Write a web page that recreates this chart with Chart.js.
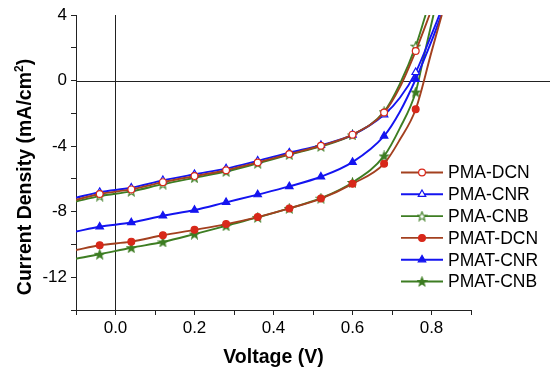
<!DOCTYPE html>
<html>
<head>
<meta charset="utf-8">
<script src="https://cdn.jsdelivr.net/npm/chart.js@4.4.1/dist/chart.umd.min.js"></script>
<style>
html, body { margin: 0; padding: 0; background: #fff; }
</style>
</head>
<body>
<canvas id="jvChart" width="550" height="378"></canvas>
<script>
// J-V data (V in volts, J in mA/cm2)
const seriesNames = ['PMA-DCN', 'PMA-CNR', 'PMA-CNB', 'PMAT-DCN', 'PMAT-CNR', 'PMAT-CNB'];

const vPMA_DCN = [-0.1, -0.04, 0.04, 0.12, 0.20, 0.28, 0.36, 0.44, 0.52, 0.60, 0.68, 0.72, 0.76, 0.795];
const jPMA_DCN = [-7.27, -6.92, -6.64, -6.20, -5.83, -5.47, -5.00, -4.48, -3.98, -3.30, -1.95, -0.40, 1.80, 4.0];

const vPMA_CNR = [-0.1, -0.04, 0.04, 0.12, 0.20, 0.28, 0.36, 0.44, 0.52, 0.60, 0.68, 0.72, 0.76, 0.80, 0.82];
const jPMA_CNR = [-7.15, -6.81, -6.54, -6.09, -5.72, -5.37, -4.90, -4.40, -3.94, -3.32, -2.09, -1.05, 0.50, 2.80, 4.0];

const vPMA_CNB = [-0.1, -0.04, 0.04, 0.12, 0.20, 0.28, 0.36, 0.44, 0.52, 0.60, 0.68, 0.72, 0.76, 0.785];
const jPMA_CNB = [-7.38, -7.05, -6.76, -6.32, -5.93, -5.55, -5.05, -4.52, -4.02, -3.32, -1.90, -0.20, 2.10, 4.0];

const vPMAT_DCN = [-0.1, -0.04, 0.04, 0.12, 0.20, 0.28, 0.36, 0.44, 0.52, 0.60, 0.68, 0.72, 0.76, 0.80, 0.826];
const jPMAT_DCN = [-10.34, -10.05, -9.83, -9.44, -9.11, -8.76, -8.33, -7.80, -7.20, -6.30, -5.07, -3.60, -1.75, 1.75, 4.0];

const vPMAT_CNR = [-0.1, -0.04, 0.04, 0.12, 0.20, 0.28, 0.36, 0.44, 0.52, 0.60, 0.68, 0.72, 0.76, 0.80, 0.825];
const jPMAT_CNR = [-9.21, -8.92, -8.66, -8.25, -7.90, -7.43, -6.96, -6.46, -5.87, -4.98, -3.38, -1.90, 0.08, 2.40, 4.0];

const vPMAT_CNB = [-0.1, -0.04, 0.04, 0.12, 0.20, 0.28, 0.36, 0.44, 0.52, 0.60, 0.68, 0.72, 0.76, 0.78, 0.805];
const jPMAT_CNB = [-10.87, -10.60, -10.20, -9.85, -9.37, -8.86, -8.35, -7.80, -7.18, -6.22, -4.60, -2.90, -0.70, 1.40, 4.0];

// voltages where the original plot puts a symbol
const markerVoltages = [-0.04, 0.04, 0.12, 0.20, 0.28, 0.36, 0.44, 0.52, 0.60, 0.68, 0.76];

const xTickLabels = ['0.0', '0.2', '0.4', '0.6', '0.8'];
const yTickLabels = ['4', '0', '-4', '-8', '-12'];

const BROWN = '#a3401f', RED = '#d8281a', BLUE = '#1414f0', GREEN = '#3d7d22';
const FONT = "'Liberation Sans', Arial, sans-serif";

Chart.defaults.color = '#000';
Chart.defaults.font.family = FONT;

function makeStar(fill, stroke) {
    const c = document.createElement('canvas');
    c.width = 11; c.height = 11;
    const g = c.getContext('2d');
    g.beginPath();
    for (let i = 0; i < 10; i++) {
        const r = i % 2 ? 2.0 : 4.7;
        const a = -Math.PI / 2 + i * Math.PI / 5;
        g.lineTo(5.5 + r * Math.cos(a), 5.9 + r * Math.sin(a));
    }
    g.closePath();
    g.fillStyle = fill;
    g.fill();
    g.lineWidth = 1.1;
    g.strokeStyle = stroke;
    g.stroke();
    return c;
}

function toPoints(vs, js) {
    return vs.map((v, i) => ({ x: v, y: js[i] }));
}

function isMarker(v) {
    return markerVoltages.some(m => Math.abs(m - v) < 1e-6);
}

function series(label, vs, js, line, style, fill, edge, r) {
    return {
        label: label,
        data: toPoints(vs, js),
        borderColor: line,
        borderWidth: 1.9,
        pointStyle: style,
        pointBackgroundColor: fill,
        pointBorderColor: edge,
        pointBorderWidth: 1.2,
        markerR: r,
        pointRadius: ctx => isMarker(ctx.raw.x) ? r : 0,
        pointHoverRadius: 0,
        cubicInterpolationMode: 'monotone',
        fill: false
    };
}

const datasets = [
    series(seriesNames[0], vPMA_DCN, jPMA_DCN, BROWN, 'circle', '#fff', RED, 3.4),
    series(seriesNames[1], vPMA_CNR, jPMA_CNR, BLUE, 'triangle', '#fff', BLUE, 4.3),
    series(seriesNames[2], vPMA_CNB, jPMA_CNB, GREEN, makeStar('#fff', GREEN), '#fff', GREEN, 5),
    series(seriesNames[3], vPMAT_DCN, jPMAT_DCN, BROWN, 'circle', RED, RED, 3.4),
    series(seriesNames[4], vPMAT_CNR, jPMAT_CNR, BLUE, 'triangle', BLUE, BLUE, 4.3),
    series(seriesNames[5], vPMAT_CNB, jPMAT_CNB, GREEN, makeStar(GREEN, GREEN), GREEN, GREEN, 5)
];

// horizontal J = 0 line that runs past the axis end
const zeroLine = {
    id: 'zeroLine',
    beforeDatasetsDraw(chart) {
        const ctx = chart.ctx;
        const y0 = Math.round(chart.scales.y.getPixelForValue(0)) + 0.5;
        ctx.save();
        ctx.strokeStyle = '#222';
        ctx.lineWidth = 1;
        ctx.beginPath();
        ctx.moveTo(chart.chartArea.left, y0);
        ctx.lineTo(chart.width, y0);
        ctx.stroke();
        ctx.restore();
    }
};

// y title with a real superscript
const yTitle = {
    id: 'yTitle',
    afterDraw(chart) {
        const ctx = chart.ctx;
        const main = 'bold 19.5px ' + FONT;
        const sup = 'bold 12px ' + FONT;
        const a = 'Current Density (mA/cm', b = '2', c = ')';
        ctx.save();
        ctx.font = main;
        const wa = ctx.measureText(a).width, wc = ctx.measureText(c).width;
        ctx.font = sup;
        const wb = ctx.measureText(b).width;
        const total = wa + wb + wc;
        ctx.translate(31, 177);
        ctx.rotate(-Math.PI / 2);
        ctx.fillStyle = '#000';
        ctx.textBaseline = 'alphabetic';
        ctx.textAlign = 'left';
        let x = -total / 2;
        ctx.font = main;
        ctx.fillText(a, x, 0);
        x += wa;
        ctx.font = sup;
        ctx.fillText(b, x, -8);
        x += wb;
        ctx.font = main;
        ctx.fillText(c, x, 0);
        ctx.restore();
    }
};

// legend placed like the original, inside the frame on the right
const sideLegend = {
    id: 'sideLegend',
    afterDraw(chart) {
        const ctx = chart.ctx;
        ctx.save();
        chart.data.datasets.forEach((ds, i) => {
            const y = 172.5 + i * 21.8;
            ctx.strokeStyle = ds.borderColor;
            ctx.lineWidth = 1.9;
            ctx.beginPath();
            ctx.moveTo(401, y);
            ctx.lineTo(443, y);
            ctx.stroke();
            ctx.fillStyle = ds.pointBackgroundColor;
            ctx.strokeStyle = ds.pointBorderColor;
            ctx.lineWidth = ds.pointBorderWidth;
            Chart.helpers.drawPoint(ctx, {
                pointStyle: ds.pointStyle,
                radius: ds.markerR,
                borderWidth: ds.pointBorderWidth,
                rotation: 0
            }, 422, y);
            ctx.fillStyle = '#000';
            ctx.font = '17.5px ' + FONT;
            ctx.textAlign = 'left';
            ctx.textBaseline = 'middle';
            ctx.fillText(ds.label, 448, y + 1);
        });
        ctx.restore();
    }
};

new Chart(document.getElementById('jvChart').getContext('2d'), {
    type: 'line',
    data: { datasets: datasets },
    options: {
        responsive: false,
        animation: false,
        events: [],
        layout: { padding: { left: 0, right: 79, top: 15, bottom: 0 } },
        plugins: {
            legend: { display: false },
            tooltip: { enabled: false }
        },
        scales: {
            x: {
                type: 'linear',
                min: -0.1,
                max: 0.9,
                afterFit: s => { s.height = 68; },
                border: { display: true, color: '#222', width: 1 },
                grid: {
                    color: ctx => Math.abs(ctx.tick.value) < 1e-9 ? '#222' : 'rgba(0,0,0,0)',
                    tickColor: '#222',
                    tickLength: 5,
                    lineWidth: 1
                },
                ticks: {
                    stepSize: 0.1,
                    autoSkip: false,
                    maxRotation: 0,
                    padding: 3,
                    font: { size: 17 },
                    callback: v => {
                        const k = Math.round(v * 10);
                        return (k >= 0 && k % 2 === 0 && k / 2 < xTickLabels.length) ? xTickLabels[k / 2] : '';
                    }
                },
                title: {
                    display: true,
                    text: 'Voltage (V)',
                    font: { size: 19.5, weight: 'bold' },
                    padding: { top: 0, bottom: 9 }
                }
            },
            y: {
                min: -14,
                max: 4,
                afterFit: s => { s.width = 76; },
                border: { display: true, color: '#222', width: 1 },
                grid: {
                    color: 'rgba(0,0,0,0)',
                    tickColor: '#222',
                    tickLength: 5,
                    lineWidth: 1
                },
                ticks: {
                    stepSize: 2,
                    autoSkip: false,
                    padding: 4,
                    font: { size: 17 },
                    callback: v => {
                        const k = Math.round((4 - v) / 4);
                        return (Math.abs((4 - v) / 4 - k) < 1e-9 && k < yTickLabels.length) ? yTickLabels[k] : '';
                    }
                }
            }
        }
    },
    plugins: [zeroLine, yTitle, sideLegend]
});
</script>
</body>
</html>
